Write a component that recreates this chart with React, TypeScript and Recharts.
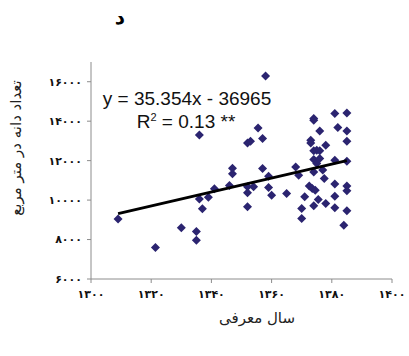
import { ScatterChart, Scatter, XAxis, YAxis } from "recharts";

// introduction year (Persian calendar) of each cultivar
const introYears = [
  1309, 1321.4, 1330, 1335, 1335, 1336, 1336, 1337, 1339, 1341, 1346, 1347, 1347,
  1352, 1352, 1352, 1352, 1353, 1354, 1355.5, 1357, 1357, 1358, 1359, 1359, 1360,
  1365, 1368, 1369, 1370, 1370, 1371, 1372.5, 1373, 1373, 1373.5, 1374, 1374, 1374,
  1374, 1374, 1374, 1374.5, 1375, 1375, 1375.5, 1376, 1376, 1376, 1377, 1377.5,
  1378, 1378, 1381, 1381, 1381, 1381, 1381, 1382, 1384, 1385, 1385, 1385, 1385,
  1385, 1385, 1385,
];

// grains per square metre
const grainCounts = [
  9040, 7600, 8600, 8410, 7970, 13300, 10050, 9560, 10150, 10570, 10740, 11330, 11620,
  12900, 10670, 10370, 9660, 12980, 10670, 13660, 13120, 11600, 16290, 11210, 10640, 10250,
  10340, 11680, 11260, 9580, 9070, 10170, 10710, 13030, 12900, 10590, 14130, 14050, 12500,
  12060, 11430, 9710, 10500, 12530, 11850, 10030, 13500, 12500, 12110, 11520, 11100,
  12780, 9830, 14390, 12020, 10810, 10200, 9610, 13680, 8730, 14420, 13500, 12980, 11970,
  10710, 10470, 9460,
];

const xTicks = [1300, 1320, 1340, 1360, 1380, 1400];
const yTicks = [6000, 8000, 10000, 12000, 14000, 16000];

// fitted regression
const slope = 35.354;
const intercept = -36965;
const trendYears = [1309, 1385];

const MARKER = "#2b2470";
const AXIS = "#8c8c8c";
const FA_FONT = "'DejaVu Sans', sans-serif";

const points = introYears.map((year, i) => ({ year, count: grainCounts[i] }));
const trend = trendYears.map((year) => ({ year, count: slope * year + intercept }));

const toPersian = (n: number) =>
  String(n).replace(/\d/g, (d) => "۰۱۲۳۴۵۶۷۸۹"[Number(d)]);

const Diamond = (props: any) => {
  const { cx, cy } = props;
  const r = 4.5;
  return (
    <polygon
      points={`${cx},${cy - r} ${cx + r},${cy} ${cx},${cy + r} ${cx - r},${cy}`}
      fill={MARKER}
    />
  );
};

const NoDot = () => <g />;

const overlay = (x: number, y: number): React.CSSProperties => ({
  position: "absolute",
  left: x,
  top: y,
  transform: "translate(-50%, -50%)",
  whiteSpace: "nowrap",
});

const tickStyle = { fill: "#111", fontSize: 11, fontWeight: "bold", fontFamily: FA_FONT };

export default function App() {
  return (
    <div
      style={{
        position: "absolute",
        left: 0,
        top: 0,
        width: 409,
        height: 356,
        background: "#fff",
      }}
    >
      <ScatterChart
        width={409}
        height={356}
        margin={{ top: 62, right: 17, bottom: 47, left: 0 }}
      >
        <XAxis
          type="number"
          dataKey="year"
          domain={[1300, 1400]}
          ticks={xTicks}
          height={30}
          tickSize={4}
          tickMargin={7}
          tickFormatter={toPersian}
          stroke={AXIS}
          tick={tickStyle}
        />
        <YAxis
          type="number"
          dataKey="count"
          domain={[6000, 17000]}
          ticks={yTicks}
          width={91}
          tickSize={4}
          tickMargin={5}
          tickFormatter={toPersian}
          stroke={AXIS}
          tick={tickStyle}
        />
        <Scatter data={points} shape={<Diamond />} isAnimationActive={false} />
        <Scatter
          data={trend}
          line={{ stroke: "#000", strokeWidth: 3 }}
          shape={<NoDot />}
          isAnimationActive={false}
        />
      </ScatterChart>

      <div style={{ ...overlay(120, 17), fontFamily: FA_FONT, fontSize: 20, fontWeight: "bold", direction: "rtl" }}>
        د
      </div>
      <div style={{ ...overlay(187, 99), fontFamily: "'Liberation Sans', Arial, sans-serif", fontSize: 19, color: "#111" }}>
        y = 35.354x - 36965
      </div>
      <div style={{ ...overlay(186, 122), fontFamily: "'Liberation Sans', Arial, sans-serif", fontSize: 19, color: "#111" }}>
        R<sup style={{ fontSize: 11 }}>2</sup> = 0.13 **
      </div>
      <div style={{ ...overlay(257, 318), fontFamily: FA_FONT, fontSize: 15, direction: "rtl", color: "#222" }}>
        سال معرفی
      </div>
      <div
        style={{
          ...overlay(16, 148),
          transform: "translate(-50%, -50%) rotate(-90deg)",
          fontFamily: FA_FONT,
          fontSize: 15,
          direction: "rtl",
          color: "#222",
        }}
      >
        تعداد دانه در متر مربع
      </div>
    </div>
  );
}
